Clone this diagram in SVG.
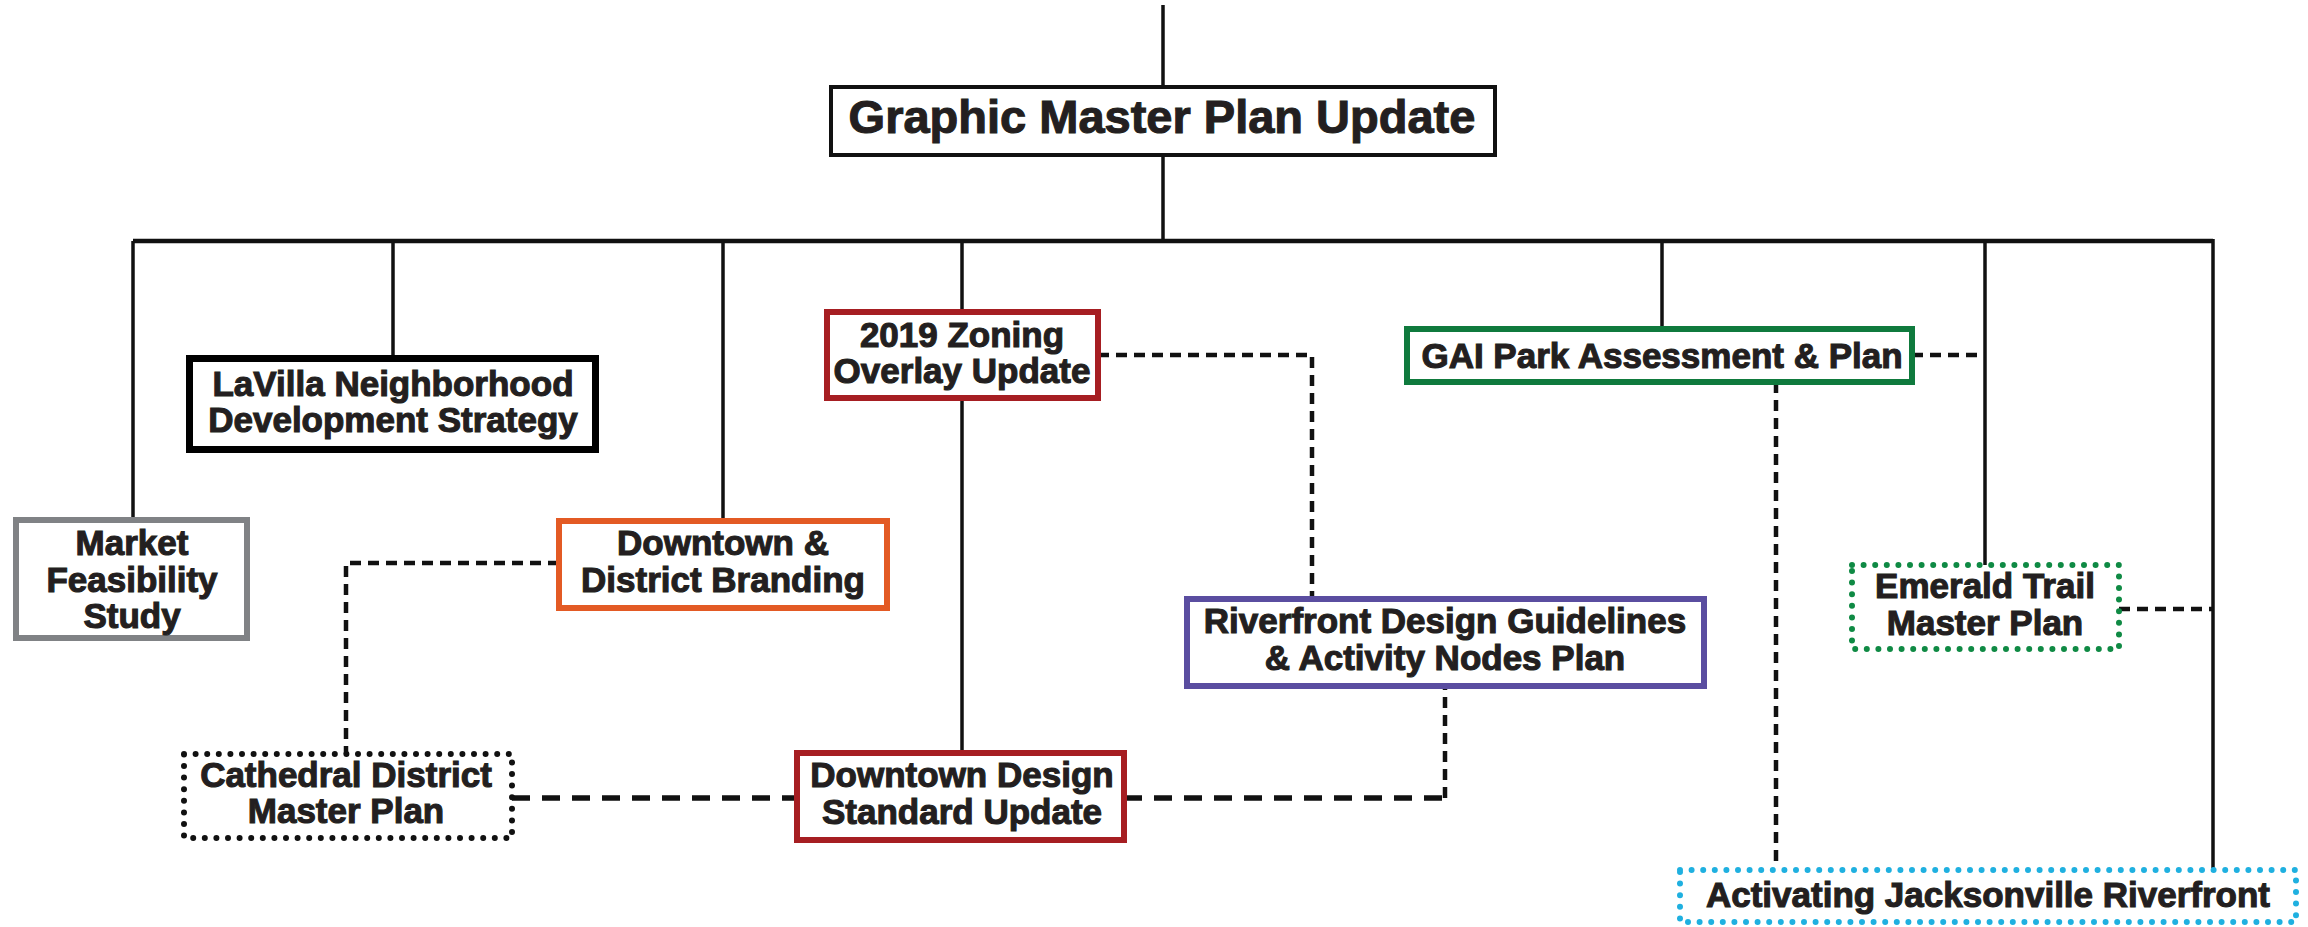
<svg xmlns="http://www.w3.org/2000/svg" width="2308" height="927" viewBox="0 0 2308 927">
<style>
.bg{fill:#ffffff}
.box{fill:#ffffff}
.t{font-family:"Liberation Sans",Arial,sans-serif;font-weight:bold;font-size:35px;fill:#231f20;stroke:#231f20;stroke-width:1.1;text-anchor:middle}
.big{font-size:47px}
.solid{fill:none;stroke:#111;stroke-width:3.5}
.bus{fill:none;stroke:#111;stroke-width:4.5}
.dash{fill:none;stroke:#111;stroke-width:4.5;stroke-dasharray:11 7}
.dashL{fill:none;stroke:#111;stroke-width:5.5;stroke-dasharray:18 12}
.dot{fill:#ffffff;stroke-width:6;stroke-linecap:round;stroke-dasharray:0 11.6}
</style>
<rect class="bg" x="0" y="0" width="2308" height="927"/>
<g id="connectors">
<path class="solid" d="M1163,5 V87"/>
<path class="solid" d="M1163,155 V241"/>
<path class="bus" d="M133,241 H2213"/>
<path class="solid" d="M133,241 V520"/>
<path class="solid" d="M393,241 V358"/>
<path class="solid" d="M723,241 V521"/>
<path class="solid" d="M962,241 V312"/>
<path class="solid" d="M962,398 V753"/>
<path class="solid" d="M1662,241 V329"/>
<path class="solid" d="M1985,241 V565"/>
<path class="solid" d="M2213,239 V868"/>
<path class="dash" d="M1098,355 H1312 V599"/>
<path class="dash" d="M1912,355 H1985"/>
<path class="dash" d="M1776,382 V868"/>
<path class="dash" d="M559,563 H346 V754"/>
<path class="dashL" d="M512,798 H797"/>
<path class="dashL" d="M1124,798 H1445"/>
<path class="dash" d="M1445,798 V686"/>
<path class="dash" d="M2119,609 H2213"/>
</g>
<g id="node-gmpu">
<rect class="box" x="831" y="87" width="664" height="68" stroke="#111" stroke-width="4"/>
<text class="t big" x="1162" y="133">Graphic Master Plan Update</text>
</g>
<g id="node-lavilla">
<rect class="box" x="189.5" y="358.5" width="406" height="91" stroke="#000" stroke-width="7"/>
<text class="t" x="393" y="396">LaVilla Neighborhood</text>
<text class="t" x="393" y="432">Development Strategy</text>
</g>
<g id="node-market">
<rect class="box" x="16" y="520" width="231" height="118" stroke="#808285" stroke-width="6"/>
<text class="t" x="132" y="555">Market</text>
<text class="t" x="132" y="592">Feasibility</text>
<text class="t" x="132" y="628">Study</text>
</g>
<g id="node-branding">
<rect class="box" x="559" y="521" width="328" height="87" stroke="#e35a24" stroke-width="6"/>
<text class="t" x="723" y="555">Downtown &amp;</text>
<text class="t" x="723" y="592">District Branding</text>
</g>
<g id="node-zoning">
<rect class="box" x="827" y="312" width="271" height="86" stroke="#a61e22" stroke-width="6"/>
<text class="t" x="962" y="347">2019 Zoning</text>
<text class="t" x="962" y="383">Overlay Update</text>
</g>
<g id="node-gai">
<rect class="box" x="1407" y="329" width="505" height="53" stroke="#0f7a3d" stroke-width="6"/>
<text class="t" x="1662" y="368">GAI Park Assessment &amp; Plan</text>
</g>
<g id="node-riverfront">
<rect class="box" x="1187" y="599" width="517" height="87" stroke="#5a4da0" stroke-width="6"/>
<text class="t" x="1445" y="633">Riverfront Design Guidelines</text>
<text class="t" x="1445" y="670">&amp; Activity Nodes Plan</text>
</g>
<g id="node-emerald">
<rect class="dot" x="1852" y="565" width="267" height="84" stroke="#0f8a44"/>
<text class="t" x="1985" y="598">Emerald Trail</text>
<text class="t" x="1985" y="635">Master Plan</text>
</g>
<g id="node-cathedral">
<rect class="dot" x="184" y="754" width="328" height="84" stroke="#111"/>
<text class="t" x="346" y="787">Cathedral District</text>
<text class="t" x="346" y="823">Master Plan</text>
</g>
<g id="node-dd">
<rect class="box" x="797" y="753" width="327" height="87" stroke="#a61e22" stroke-width="6"/>
<text class="t" x="962" y="787">Downtown Design</text>
<text class="t" x="962" y="824">Standard Update</text>
</g>
<g id="node-activating">
<rect class="dot" x="1680" y="870" width="616" height="52" stroke="#1fb0e0"/>
<text class="t" x="1988" y="907">Activating Jacksonville Riverfront</text>
</g>
</svg>
